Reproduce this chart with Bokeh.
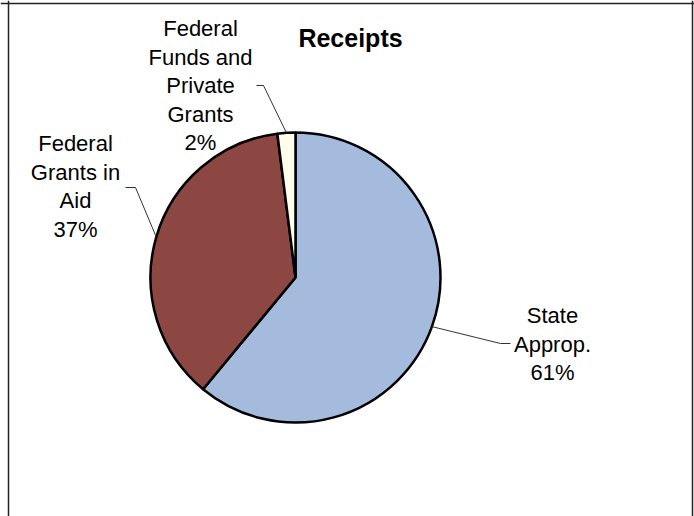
import math
from bokeh.plotting import figure
from bokeh.models import Range1d, Span, ColumnDataSource
from bokeh.core.properties import value
from bokeh.embed import file_html
from bokeh.resources import INLINE

# ---- data ----
categories = ["State Approp.", "Federal Grants in Aid", "Federal Funds and Private Grants"]
percents = [61, 37, 2]
label_lines = [
    ["State", "Approp.", "61%"],
    ["Federal", "Grants in", "Aid", "37%"],
    ["Federal", "Funds and", "Private", "Grants", "2%"],
]
colors = ["#A5BBDD", "#8C4742", "#FFFDEA"]
title = "Receipts"

W, H = 694, 516
p = figure(width=W, height=H, output_backend="svg", toolbar_location=None,
           x_range=Range1d(0, W), y_range=Range1d(0, H), min_border=0)
p.axis.visible = False
p.grid.visible = False
p.outline_line_color = None
p.background_fill_color = "white"

def Y(py):
    return H - py

cx, cy, r = 295, Y(277), 145
total = sum(percents)
starts, ends, mids = [], [], []
a = math.pi / 2
for v in percents:
    s = a
    e = a - v / total * 2 * math.pi
    starts.append(s); ends.append(e); mids.append((s + e) / 2)
    a = e

src = ColumnDataSource(dict(start=starts, end=ends, color=colors))
p.wedge(x=cx, y=cy, radius=r, start_angle="end", end_angle="start",
        fill_color="color", line_color="black", line_width=2.5, source=src)

# leader lines
elbows = [((500, 343), (510, 343)), ((135, 187), (125, 187)), ((263, 85), (256, 85))]
for m, (e1, e2) in zip(mids, elbows):
    sx = cx + r * math.cos(m)
    sy = cy + r * math.sin(m)
    p.line([sx, e1[0], e2[0]], [sy, Y(e1[1]), Y(e2[1])], line_color="#333333", line_width=1)

# labels
label_pos = [(552, 315), (75, 143), (200, 28)]
step = 28.6
for lines, (lx, ly) in zip(label_lines, label_pos):
    xs = [lx] * len(lines)
    ys = [Y(ly + i * step) for i in range(len(lines))]
    p.text(x=xs, y=ys, text=lines, text_align="center", text_baseline="middle",
           text_font=value("Liberation Sans"), text_font_size="22px", text_color="black")

p.text(x=[350], y=[Y(37)], text=[title], text_align="center", text_baseline="middle",
       text_font=value("Liberation Sans"), text_font_size="25px", text_font_style="bold",
       text_color="black")

# outer frame (left, top, right)
p.add_layout(Span(location=8, dimension="height", line_color="#222222", line_width=1.5))
p.add_layout(Span(location=Y(3), dimension="width", line_color="#222222", line_width=1.5))
p.add_layout(Span(location=692, dimension="height", line_color="#222222", line_width=1.5))

open("out.html", "w").write(file_html(p, INLINE))
